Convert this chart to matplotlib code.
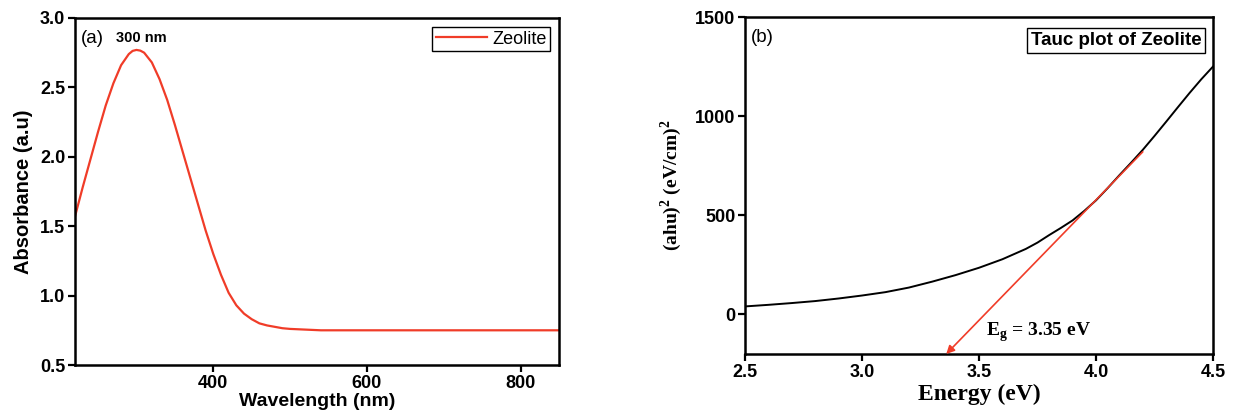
import matplotlib
matplotlib.use('Agg')
import matplotlib.pyplot as plt

# (a) UV-vis absorbance
wavelength = [220, 230, 240, 250, 260, 270, 280, 290, 295, 300, 305, 310, 320, 330, 340, 350, 360,
              370, 380, 390, 400, 410, 420, 430, 440, 450, 460, 470, 480, 490, 500, 520, 540, 600,
              700, 850]
absorbance = [1.57, 1.78, 1.98, 2.18, 2.37, 2.53, 2.66, 2.74, 2.763, 2.77, 2.765, 2.75, 2.68, 2.56,
              2.41, 2.23, 2.04, 1.85, 1.66, 1.47, 1.30, 1.15, 1.02, 0.93, 0.87, 0.83, 0.80, 0.785,
              0.775, 0.765, 0.76, 0.755, 0.75, 0.75, 0.75, 0.75]

# (b) Tauc plot
energy = [2.5, 2.6, 2.7, 2.8, 2.9, 3.0, 3.1, 3.2, 3.3, 3.4, 3.5, 3.6, 3.7, 3.75, 3.8, 3.85, 3.9,
          3.95, 4.0, 4.05, 4.1, 4.15, 4.2, 4.25, 4.3, 4.35, 4.4, 4.45, 4.5]
tauc = [40, 48, 57, 67, 80, 95, 112, 135, 165, 198, 235, 278, 330, 362, 400, 436, 474, 522, 575,
        637, 702, 765, 830, 900, 972, 1045, 1117, 1186, 1250]
fit_start = (4.20, 820)
fit_end = (3.36, -200)

sans = 'Liberation Sans'
serif = 'Liberation Serif'
red = '#f03c28'

fig = plt.figure(figsize=(12.38, 4.15), dpi=100)
ax1 = fig.add_axes([75 / 1238, 1 - 365 / 415, 484 / 1238, 347 / 415])
ax2 = fig.add_axes([745 / 1238, 1 - 354 / 415, 468 / 1238, 337 / 415])

# ---- panel (a)
ax1.plot(wavelength, absorbance, color=red, lw=1.6, label='Zeolite')
ax1.set_xlim(220, 850)
ax1.set_ylim(0.5, 3.0)
ax1.set_xticks([400, 600, 800])
ax1.set_yticks([0.5, 1.0, 1.5, 2.0, 2.5, 3.0])
ax1.set_xlabel('Wavelength (nm)', family=sans, fontsize=14, fontweight='bold', labelpad=1)
ax1.set_ylabel('Absorbance (a.u)', family=sans, fontsize=14.5, fontweight='bold', labelpad=5)
ax1.text(0.012, 0.965, '(a)', transform=ax1.transAxes, family=sans, fontsize=13.5, va='top')
ax1.text(0.085, 0.962, '300 nm', transform=ax1.transAxes, family=sans, fontsize=10.5,
         fontweight='bold', va='top')
leg = ax1.legend(loc='upper right', prop={'family': sans, 'size': 13}, fancybox=False,
                 edgecolor='black', framealpha=1, handlelength=2.8, borderpad=0.2,
                 handletextpad=0.3, borderaxespad=0.5)
leg.get_frame().set_linewidth(1.0)

# ---- panel (b)
ax2.plot(energy, tauc, color='black', lw=1.4)
ax2.annotate('', xy=fit_end, xytext=fit_start,
             arrowprops=dict(arrowstyle='-|>', color=red, lw=1.2, mutation_scale=12,
                             shrinkA=0, shrinkB=0))
ax2.text(3.53, -90, r'E$_\mathregular{g}$ = 3.35 eV', family=serif, fontsize=14,
         fontweight='bold', va='center')
ax2.set_xlim(2.5, 4.5)
ax2.set_ylim(-200, 1500)
ax2.set_xticks([2.5, 3.0, 3.5, 4.0, 4.5])
ax2.set_yticks([0, 500, 1000, 1500])
ax2.set_xlabel('Energy (eV)', family=serif, fontsize=17, fontweight='bold', labelpad=2)
ax2.set_ylabel(r'(ahu)$^\mathregular{2}$ (eV/cm)$^\mathregular{2}$', family=serif, fontsize=14,
               fontweight='bold', labelpad=8)
ax2.text(0.012, 0.965, '(b)', transform=ax2.transAxes, family=sans, fontsize=13.5, va='top')
ax2.text(0.975, 0.93, 'Tauc plot of Zeolite', transform=ax2.transAxes, family=sans,
         fontsize=13.5, fontweight='bold', ha='right', va='center',
         bbox=dict(boxstyle='square,pad=0.2', fc='white', ec='black', lw=1.0))

for ax in (ax1, ax2):
    for sp in ax.spines.values():
        sp.set_linewidth(1.8)
    ax.tick_params(direction='out', length=5, width=1.6, pad=2, labelsize=13)
    for lab in ax.get_xticklabels() + ax.get_yticklabels():
        lab.set_family(sans)
        lab.set_fontweight('bold')

fig.savefig('out.png', dpi=100)
